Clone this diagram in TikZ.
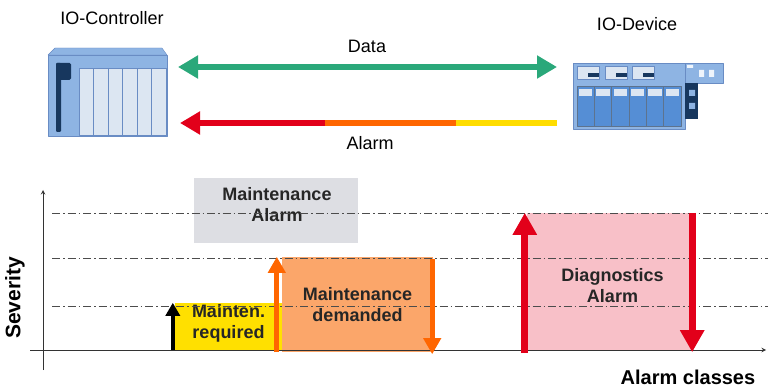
\documentclass[tikz,border=0pt]{standalone}
\usepackage{fontspec}
\setmainfont{Liberation Sans}
\usetikzlibrary{arrows.meta}
\definecolor{dataG}{RGB}{42,168,122}
\definecolor{almR}{RGB}{226,0,26}
\definecolor{almO}{RGB}{255,102,0}
\definecolor{almY}{RGB}{255,221,0}
\definecolor{boxY}{RGB}{255,224,0}
\definecolor{boxO}{RGB}{251,166,106}
\definecolor{boxP}{RGB}{248,192,200}
\definecolor{boxG}{RGB}{221,222,227}
\definecolor{icoB}{RGB}{142,180,227}
\definecolor{icoL}{RGB}{220,230,242}
\definecolor{icoD}{RGB}{23,55,94}
\definecolor{icoM}{RGB}{85,142,213}
\definecolor{icoE}{RGB}{105,140,196}
\begin{document}
\begin{tikzpicture}[x=1pt,y=-1pt,>=stealth,line join=round,
    lbl/.style={font=\fontsize{18}{21}\selectfont,inner sep=0pt},
    blbl/.style={font=\bfseries\fontsize{18}{21}\selectfont,align=center,inner sep=0pt,text=black!85},
    alarmbox/.style={draw=none,inner sep=0pt},
    level/.style={draw=black!70,line width=0.8pt,dash pattern=on 8pt off 3pt on 1.5pt off 3pt}]
    \useasboundingbox (0,0) rectangle (768,390);
    % IO-Controller
    \draw[icoE,fill=icoB] (48,55)--(55,48)--(162,48)--(167,55)--cycle;
    \draw[icoE,fill=icoB] (48,55) rectangle (167,136);
    \foreach \i in {0,...,5}
        \draw[icoE,fill=icoL] (79+14.5*\i,68) rectangle (79+14.5*\i+14.5,135);
    \fill[icoD,rounded corners=1.5pt] (56,63) rectangle (71,80);
    \fill[icoD,rounded corners=1pt] (56,63) rectangle (61,132);
    \node[lbl] (ctrl) at (112,18) {IO-Controller};
    % IO-Device
    \draw[icoE,fill=icoB] (685,63) rectangle (723,83);
    \draw[icoE,fill=icoB] (573,63) rectangle (685,129);
    \fill[icoD] (685,83) rectangle (698,119);
    \fill[icoB] (689,90) rectangle (695,96) (689,103) rectangle (695,109);
    \fill[white!85!icoB] (687,65) rectangle (693,68) (699,70) rectangle (704,77) (709,70) rectangle (714,77);
    \foreach \x in {577,605,632} {
        \draw[icoE,fill=icoL] (\x,66) rectangle (\x+22,79);
        \fill[icoD] (\x+11,73) rectangle (\x+22,77);
    }
    \foreach \i in {0,...,5} {
        \draw[icoD!70,fill=icoM] (577+17.3*\i,86) rectangle (577+17.3*\i+17.3,126);
        \fill[icoL] (579+17.3*\i,89) rectangle (577+17.3*\i+15.3,96);
    }
    \node[lbl] (dev) at (637,24) {IO-Device};
    % Data and Alarm
    \coordinate (dL) at (178,67);
    \coordinate (dR) at (557,67);
    \draw[dataG,line width=6pt,{Triangle[width=22pt,length=20pt]}-{Triangle[width=22pt,length=20pt]}] (dL)--(dR);
    \node[lbl] (data) at (367,46) {Data};
    \coordinate (aR) at (557,123);
    \coordinate (aY) at (456,123);
    \coordinate (aO) at (325,123);
    \coordinate (aL) at (180,123);
    \draw[almY,line width=6pt] (aR)--(aY);
    \draw[almO,line width=6pt] (aY)--(aO);
    \draw[almR,line width=6pt,-{Triangle[width=22pt,length=20pt]}] (aO)--(aL);
    \node[lbl] (alarm) at (370,143) {Alarm};
    % alarm classes
    \node[alarmbox,fill=boxG,minimum width=164,minimum height=65,
        label={[blbl,xshift=1pt,yshift=6pt]center:{Maintenance\\Alarm}}] (malarm) at (276,210.5) {};
    \node[alarmbox,fill=boxY,minimum width=107,minimum height=47,
        label={[blbl,yshift=3pt]center:{Mainten.\\required}}] (mreq) at (228.5,326.5) {};
    \node[alarmbox,fill=boxO,minimum width=151,minimum height=95,blbl] (mdem) at (357.5,304.5) {Maintenance\\demanded};
    \node[alarmbox,fill=boxP,minimum width=165,minimum height=137,
        label={[blbl,xshift=3pt,yshift=-4pt]center:{Diagnostics\\Alarm}}] (diag) at (609.5,281.5) {};
    \foreach \y in {213,258,306}
        \draw[level] (52,\y)--(768,\y);
    \draw[black!80,line width=1pt,->] (43,370)--(43,190);
    \draw[black!80,line width=1pt,->] (30,350)--(766,350);
    \draw[black,line width=4pt,-{Triangle[width=14pt,length=13pt]}] ([xshift=-2]mreq.south west)--([xshift=-2]mreq.north west);
    \draw[almO,line width=5pt,-{Triangle[width=17pt,length=16pt]}] ([xshift=-5]mdem.south west)--([xshift=-5]mdem.north west);
    \draw[almO,line width=5pt,-{Triangle[width=17pt,length=16pt]}] ([xshift=-1,yshift=-2]mdem.north east)--([xshift=-1,yshift=-2]mdem.south east);
    \draw[almR,line width=7pt,-{Triangle[width=23pt,length=22pt]}] ([xshift=-2,yshift=-3]diag.south west)--([xshift=-2]diag.north west);
    \draw[almR,line width=7pt,-{Triangle[width=23pt,length=22pt]}] (diag.north east)--([yshift=-2]diag.south east);
    \node[font=\bfseries\fontsize{21}{24}\selectfont,rotate=90,inner sep=0pt] (sev) at (15,298) {Severity};
    \node[font=\bfseries\fontsize{20}{24}\selectfont,inner sep=0pt] (cls) at (688,377) {Alarm classes};
\end{tikzpicture}
\end{document}
